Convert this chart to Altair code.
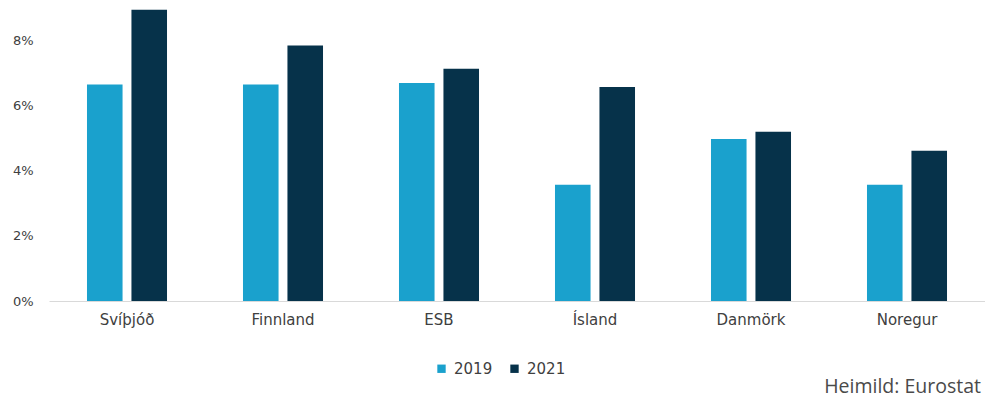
import altair as alt
import pandas as pd

countries = ["Svíþjóð", "Finnland", "ESB", "Ísland", "Danmörk", "Noregur"]
years = ["2019", "2021"]
v2019 = [6.65, 6.65, 6.7, 3.57, 4.98, 3.57]
v2021 = [8.95, 7.85, 7.14, 6.58, 5.2, 4.62]
colors = ["#1aa1cd", "#06324a"]

rows = []
for c, a, b in zip(countries, v2019, v2021):
    rows.append({"land": c, "ár": "2019", "hlutfall": a})
    rows.append({"land": c, "ár": "2021", "hlutfall": b})
df = pd.DataFrame(rows)

FONT = "DejaVu Sans"

chart = alt.Chart(df).mark_bar().encode(
    x=alt.X("land:N", sort=countries, title=None,
            scale=alt.Scale(paddingInner=0.487, paddingOuter=0.2435),
            axis=alt.Axis(labelAngle=0, ticks=False, domainColor="#d9d9d9",
                          labelPadding=11, labelFontSize=15, labelColor="#404040",
                          labelFont=FONT)),
    xOffset=alt.XOffset("ár:N", scale=alt.Scale(paddingInner=0.2, paddingOuter=0)),
    y=alt.Y("hlutfall:Q", title=None,
            scale=alt.Scale(domain=[0, 9.25], nice=False),
            axis=alt.Axis(values=[0, 2, 4, 6, 8], grid=False, ticks=False, domain=False,
                          labelExpr="datum.value + '%'", labelPadding=16,
                          labelFontSize=13, labelColor="#404040", labelFont=FONT)),
    color=alt.Color("ár:N", scale=alt.Scale(domain=years, range=colors),
                    legend=alt.Legend(title=None, orient="none", direction="horizontal",
                                      legendX=385, legendY=361, symbolType="square",
                                      symbolSize=70, labelFontSize=15, labelColor="#404040",
                                      labelFont=FONT, columnPadding=14, labelOffset=5,
                                      symbolStrokeWidth=0)),
).properties(
    width=936, height=301,
    title=alt.TitleParams("Heimild: Eurostat", orient="bottom", anchor="end",
                          fontSize=19.5, fontWeight="normal", color="#4a4a4a",
                          font="Open Sans", offset=1, dx=-4),
).configure(
    autosize=alt.AutoSizeParams(type="none"),
    padding={"left": 49, "top": 0, "right": 0, "bottom": 97},
    background="white",
    view=alt.ViewConfig(stroke=None),
)

chart.save("out.html", embed_options={"renderer": "svg", "actions": False})
